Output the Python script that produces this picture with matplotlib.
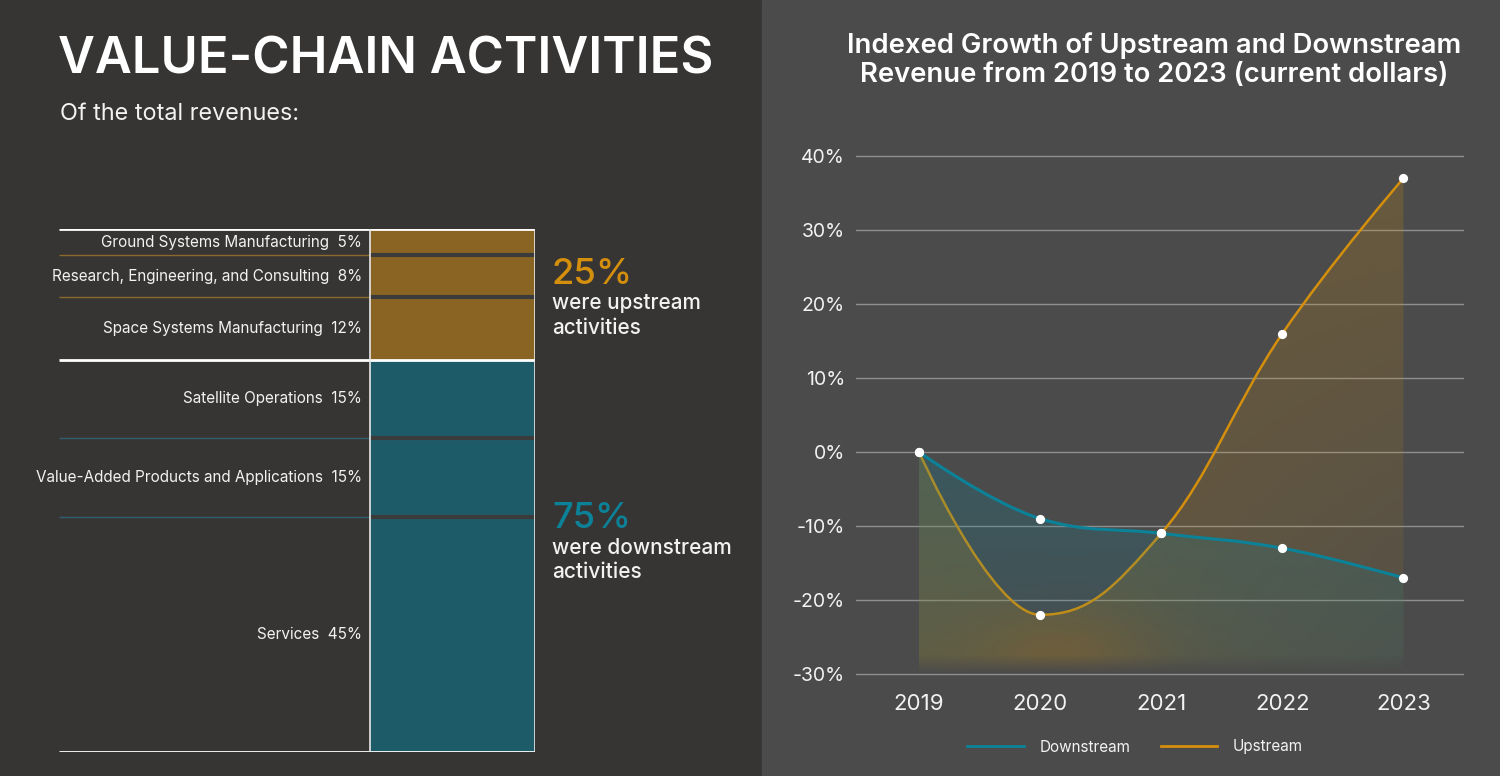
import numpy as np
import matplotlib.pyplot as plt
from matplotlib.path import Path
from matplotlib.patches import PathPatch, Rectangle
from matplotlib.lines import Line2D
from matplotlib.colors import to_rgb

plt.rcParams['font.family'] = ['Inter', 'DejaVu Sans']

# ---- data ----
up_names = ["Ground Systems Manufacturing", "Research, Engineering, and Consulting",
            "Space Systems Manufacturing"]
up_vals = [5, 8, 12]
down_names = ["Satellite Operations", "Value-Added Products and Applications", "Services"]
down_vals = [15, 15, 45]

years = [2019, 2020, 2021, 2022, 2023]
downstream = [0, -9, -11, -13, -17]
upstream = [0, -22, -11, 16, 37]

GOLD = '#d48f0c'
TEAL = '#0c8299'
BAR_GOLD = '#8a6422'
BAR_TEAL = '#1e5b69'
TXT = '#f2f2f2'

W, H = 1500, 776
fig = plt.figure(figsize=(15, 7.76), dpi=100)
fig.patch.set_facecolor('#373533')
renderer = fig.canvas.get_renderer()


def fx(x):
    return x / W


def fy(y):
    return 1 - y / H


def fit(t, width_px):
    bb = t.get_window_extent(renderer)
    t.set_fontsize(t.get_fontsize() * width_px / bb.width)


# right panel background
fig.add_artist(Rectangle((fx(762), 0), 1 - fx(762), 1, transform=fig.transFigure,
                         color='#4b4b4b', zorder=0))

# ---- left: stacked bar ----
t = fig.text(fx(58), fy(74), "VALUE-CHAIN ACTIVITIES", fontsize=38, weight='semibold',
             color='white', ha='left', va='baseline')
fit(t, 656)
t = fig.text(fx(60), fy(120), "Of the total revenues:", fontsize=15, color=TXT,
             ha='left', va='baseline')
fit(t, 240)

axb = fig.add_axes([fx(59), fy(752), (535 - 59) / W, (752 - 229) / H])
axb.set_xlim(0, 476)
axb.set_ylim(100, 0)
axb.axis('off')
bx, bw = 311, 165

names = up_names + down_names
vals = up_vals + down_vals
cols = [BAR_GOLD] * len(up_vals) + [BAR_TEAL] * len(down_vals)
bottoms = np.concatenate([[0], np.cumsum(vals)[:-1]])
axb.bar(bx, vals, bottom=bottoms, width=bw, align='edge', color=cols, linewidth=0)

for i, (n, v, b) in enumerate(zip(names, vals, bottoms)):
    axb.text(bx - 8, b + v / 2, f"{n}  {v}%", ha='right', va='center',
             fontsize=11, color=TXT)
    if b > 0 and b != sum(up_vals):
        c = '#8a6a2a' if i < len(up_vals) else '#2f5f73'
        axb.hlines(b, 0, bx, color=c, lw=1)
        axb.hlines(b, bx, bx + bw, color='#3b3b3b', lw=3)

axb.hlines([0, sum(up_vals), 100], 0, bx + bw, color='white', lw=2)
axb.vlines([bx, bx + bw], 0, 100, color='#e8e8e8', lw=1.2)

t = fig.text(fx(552), fy(284), f"{sum(up_vals)}%", fontsize=27, color=GOLD,
             weight='medium', ha='left', va='baseline')
fit(t, 81)
t = fig.text(fx(552), fy(309), "were upstream", fontsize=14, color=TXT,
             weight='medium', va='baseline')
fit(t, 148)
fig.text(fx(552), fy(334), "activities", fontsize=t.get_fontsize(), color=TXT,
         weight='medium', va='baseline')
t = fig.text(fx(552), fy(528), f"{sum(down_vals)}%", fontsize=27, color=TEAL,
             weight='medium', ha='left', va='baseline')
fit(t, 79)
t = fig.text(fx(552), fy(554), "were downstream", fontsize=14, color=TXT,
             weight='medium', va='baseline')
fit(t, 179)
fig.text(fx(552), fy(578), "activities", fontsize=t.get_fontsize(), color=TXT,
         weight='medium', va='baseline')

# ---- right: indexed growth ----
t1 = fig.text(fx(1154), fy(46), "Indexed Growth of Upstream and Downstream",
              fontsize=19, weight='semibold', color='white', ha='center', va='center')
fit(t1, 612)
fig.text(fx(1154), fy(75), "Revenue from 2019 to 2023 (current dollars)",
         fontsize=t1.get_fontsize(), weight='semibold', color='white',
         ha='center', va='center')

ax = fig.add_axes([fx(856), fy(677.7), (1464 - 856) / W, (677.7 - 152.3) / H])
ax.set_facecolor('none')
for s in ax.spines.values():
    s.set_visible(False)
ax.set_yticks(range(-30, 41, 10))
ax.set_yticklabels([f"{v}%" for v in range(-30, 41, 10)])
ax.set_xticks(years)
ax.tick_params(axis='y', length=0, colors=TXT, labelsize=14, pad=8)
ax.tick_params(axis='x', length=0, colors=TXT, labelsize=16, pad=12)
ax.yaxis.grid(True, color='#8e8e8e', lw=1)
ax.set_axisbelow(True)


def spline_path(xs, ys, floor=None, sm=1.5):
    # smooth curve through the points, flat at local extremes
    n = len(xs)
    lc, rc = [None] * n, [None] * n
    for i in range(1, n - 1):
        px, py = xs[i], ys[i]
        lx, ly = xs[i - 1], ys[i - 1]
        nx, ny = xs[i + 1], ys[i + 1]
        lcx, lcy = (sm * px + lx) / (sm + 1), (sm * py + ly) / (sm + 1)
        rcx, rcy = (sm * px + nx) / (sm + 1), (sm * py + ny) / (sm + 1)
        corr = (rcy - lcy) * (rcx - px) / (rcx - lcx) + py - rcy
        lcy += corr
        rcy += corr
        if lcy > ly and lcy > py:
            lcy = max(ly, py); rcy = 2 * py - lcy
        elif lcy < ly and lcy < py:
            lcy = min(ly, py); rcy = 2 * py - lcy
        if rcy > ny and rcy > py:
            rcy = max(ny, py); lcy = 2 * py - rcy
        elif rcy < ny and rcy < py:
            rcy = min(ny, py); lcy = 2 * py - rcy
        lc[i], rc[i] = (lcx, lcy), (rcx, rcy)
    verts = [(xs[0], ys[0])]
    codes = [Path.MOVETO]
    for i in range(1, n):
        verts += [rc[i - 1] or (xs[i - 1], ys[i - 1]), lc[i] or (xs[i], ys[i]),
                  (xs[i], ys[i])]
        codes += [Path.CURVE4] * 3
    if floor is not None:
        verts += [(xs[-1], floor), (xs[0], floor), (xs[0], ys[0])]
        codes += [Path.LINETO, Path.LINETO, Path.CLOSEPOLY]
    return Path(verts, codes)


def grad_fill(path, color, alpha_fn, z):
    clip = PathPatch(path, facecolor='none', edgecolor='none')
    ax.add_patch(clip)
    gx, gy = np.meshgrid(np.linspace(years[0], years[-1], 200), np.linspace(-30, 40, 300))
    img = np.zeros(gx.shape + (4,))
    img[..., :3] = to_rgb(color)
    img[..., 3] = np.clip(alpha_fn(gx, gy), 0, 1)
    im = ax.imshow(img, extent=(years[0], years[-1], -30, 40), origin='lower',
                   aspect='auto', interpolation='bilinear', zorder=z)
    im.set_clip_path(clip)


def fade(gy):
    return np.clip((gy + 30) / 2.5, 0, 1)


def glow(gx, gy):
    return np.exp(-((gx - 2020.2) / 0.75) ** 2 - ((gy + 28) / 7) ** 2)


def teal_alpha(gx, gy):
    v = np.clip((gy + 30) / 30, 0, 1)
    return 0.25 * (0.4 + 0.6 * v) * (1 - 0.7 * glow(gx, gy)) * fade(gy)


def gold_alpha(gx, gy):
    v = np.clip((gy + 30) / 67, 0, 1)
    u = (gx - years[0]) / (years[-1] - years[0])
    return (0.22 * (1 - 0.7 * u * (1 - v)) + 0.1 * glow(gx, gy)) * fade(gy)


grad_fill(spline_path(years, upstream, floor=-30), GOLD, gold_alpha, 1)
ax.add_patch(PathPatch(spline_path(years, upstream), facecolor='none',
                       edgecolor=GOLD, lw=1.8, zorder=1.5))
grad_fill(spline_path(years, downstream, floor=-30), TEAL, teal_alpha, 2)
ax.add_patch(PathPatch(spline_path(years, downstream), facecolor='none',
                       edgecolor=TEAL, lw=2.2, zorder=3))
ax.scatter(years, downstream, s=44, color='white', zorder=5, linewidths=0)
ax.scatter(years, upstream, s=44, color='white', zorder=5, linewidths=0)
ax.set_xlim(2018.48, 2023.5)
ax.set_ylim(-30.5, 40.5)

handles = [Line2D([], [], color=TEAL, lw=2), Line2D([], [], color=GOLD, lw=2)]
leg = fig.legend(handles, ["Downstream", "Upstream"], loc='center',
                 bbox_to_anchor=(fx(1135), fy(747)), ncol=2, frameon=False,
                 fontsize=11, handlelength=3.7, handletextpad=1.0, columnspacing=2.0)
for tx in leg.get_texts():
    tx.set_color(TXT)

fig.savefig('out.png', dpi=100, facecolor=fig.get_facecolor())
